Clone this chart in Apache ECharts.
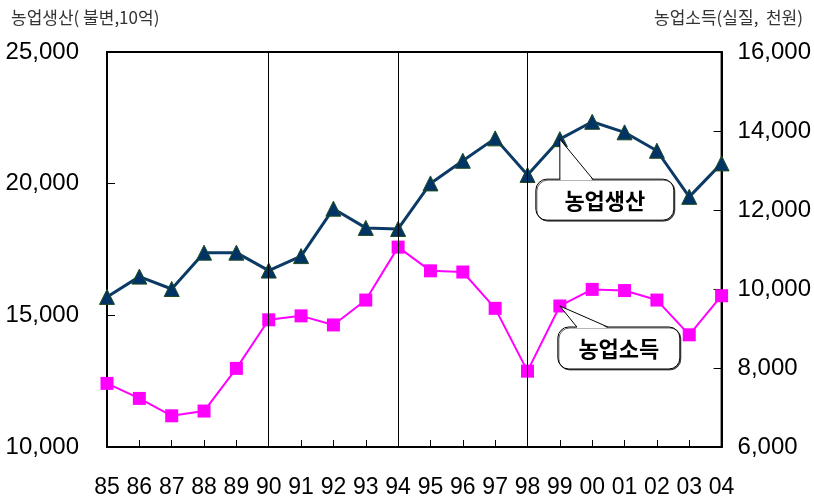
<!DOCTYPE html>
<html>
<head>
<meta charset="utf-8">
<script src="https://cdn.jsdelivr.net/npm/echarts@6/dist/echarts.min.js"></script>
<style>
  html, body { margin: 0; padding: 0; background: #fff; }
  #chart { width: 814px; height: 502px; }
</style>
</head>
<body>
<div id="chart"></div>
<script>
// 연도 (85 ~ 04)
const years = ['85', '86', '87', '88', '89', '90', '91', '92', '93', '94',
  '95', '96', '97', '98', '99', '00', '01', '02', '03', '04'];
// 농업생산 (불변, 10억) - 왼쪽 축
const production = [15700, 16470, 16000, 17380, 17380, 16700, 17250, 19050, 18320, 18280,
  20010, 20870, 21720, 20330, 21690, 22350, 21950, 21250, 19500, 20770];
// 농업소득 (실질, 천원) - 오른쪽 축
const income = [7610, 7230, 6790, 6910, 7990, 9220, 9320, 9090, 9720, 11060,
  10460, 10430, 9510, 7920, 9570, 9990, 9960, 9720, 8840, 9830];
// 구분선
const dividers = ['90', '94', '98'];
const leftTicks = [10000, 15000, 20000, 25000];
const rightTicks = [6000, 8000, 10000, 12000, 14000, 16000];

const numFont = "'Liberation Sans', Arial, sans-serif";
const krFont = "'Noto Sans CJK KR', 'Noto Sans', sans-serif";

function fmt(v) {
  return String(v).replace(/\B(?=(\d{3})+(?!\d))/g, ',');
}

let myChart = echarts.init(document.getElementById('chart'));

myChart.setOption({
  animation: false,
  backgroundColor: '#fff',
  title: [
    {
      text: '농업생산( 불변,10억)',
      left: 6, top: 4,
      textStyle: { fontFamily: krFont, fontSize: 17, fontWeight: 'normal', color: '#333' }
    },
    {
      text: '농업소득(실질,  천원)',
      right: 6, top: 4,
      textStyle: { fontFamily: krFont, fontSize: 17, fontWeight: 'normal', color: '#333' }
    }
  ],
  grid: {
    left: 107, right: 92, top: 52, bottom: 55,
    show: true,
    borderColor: '#000',
    borderWidth: 2
  },
  xAxis: {
    type: 'category',
    boundaryGap: false,
    data: years,
    axisLine: { lineStyle: { color: '#000', width: 2 } },
    axisTick: { inside: true, length: 7, lineStyle: { color: '#000', width: 1 } },
    axisLabel: {
      color: '#000',
      fontFamily: numFont,
      fontSize: 23,
      margin: 29,
      interval: 0
    },
    splitLine: { show: false }
  },
  yAxis: [
    {
      type: 'value',
      min: leftTicks[0],
      max: leftTicks[leftTicks.length - 1],
      interval: 5000,
      axisLine: { show: true, lineStyle: { color: '#000', width: 2 } },
      axisTick: { show: true, inside: true, length: 8, lineStyle: { color: '#000' } },
      axisLabel: {
        color: '#000', fontFamily: numFont, fontSize: 24, margin: 28,
        lineHeight: 30, padding: [6, 0, 0, 0],
        formatter: fmt
      },
      splitLine: { show: false }
    },
    {
      type: 'value',
      min: rightTicks[0],
      max: rightTicks[rightTicks.length - 1],
      interval: 2000,
      axisLine: { show: true, lineStyle: { color: '#000', width: 2 } },
      axisTick: { show: true, inside: true, length: 8, lineStyle: { color: '#000' } },
      axisLabel: {
        color: '#000', fontFamily: numFont, fontSize: 24, margin: 16,
        lineHeight: 30, padding: [6, 0, 0, 0],
        formatter: fmt
      },
      splitLine: { show: false }
    }
  ],
  series: [
    {
      name: '농업생산',
      type: 'line',
      yAxisIndex: 0,
      data: production,
      symbol: 'triangle',
      symbolSize: 15,
      lineStyle: { color: '#0b3a66', width: 3 },
      itemStyle: { color: '#003366', borderColor: '#1f4a1f', borderWidth: 1 },
      markLine: {
        silent: true,
        symbol: ['none', 'none'],
        label: { show: false },
        lineStyle: { color: '#000', width: 1, type: 'solid' },
        data: dividers.map(d => ({ xAxis: d }))
      },
      z: 3
    },
    {
      name: '농업소득',
      type: 'line',
      yAxisIndex: 1,
      data: income,
      symbol: 'rect',
      symbolSize: 13,
      lineStyle: { color: '#ff00ff', width: 2 },
      itemStyle: { color: '#ff00ff' },
      z: 2
    }
  ]
});

// 말풍선 (농업생산 / 농업소득) - 99년 점에 붙임
function bubble(ax, ay, L, T, W, H, b1, b2, text) {
  return [
    {
      type: 'rect',
      shape: { x: L, y: T, width: W, height: H, r: 11 },
      style: { fill: '#fff', stroke: '#000', lineWidth: 1, shadowColor: 'rgba(0,0,0,0.6)', shadowOffsetX: 1, shadowOffsetY: 1 },
      z: 100
    },
    {
      type: 'polygon',
      shape: { points: [[b1 + 0.5, T + 1], [ax, ay], [b2 - 0.5, T + 1]] },
      style: { fill: '#fff', stroke: null },
      z: 101
    },
    {
      type: 'polyline',
      shape: { points: [[b1, T], [ax, ay], [b2, T]] },
      style: { stroke: '#000', lineWidth: 1, fill: null },
      z: 102
    },
    {
      type: 'text',
      x: L + W / 2, y: T + H / 2 + 1,
      style: {
        text: text, fill: '#000', fontFamily: krFont, fontSize: 22, fontWeight: 'bold',
        align: 'center', verticalAlign: 'middle'
      },
      z: 103
    }
  ];
}

const i99 = years.indexOf('99');
const pP = myChart.convertToPixel({ seriesIndex: 0 }, [i99, production[i99]]);
const pI = myChart.convertToPixel({ seriesIndex: 1 }, [i99, income[i99]]);

myChart.setOption({
  graphic: {
    elements: [].concat(
      bubble(pP[0], pP[1], pP[0] - 24, pP[1] + 40, 138, 41, pP[0], pP[0] + 33, '농업생산'),
      bubble(pI[0], pI[1], pI[0] - 2, pI[1] + 21, 122, 42, pI[0] + 17, pI[0] + 48, '농업소득')
    )
  }
});
</script>
</body>
</html>
